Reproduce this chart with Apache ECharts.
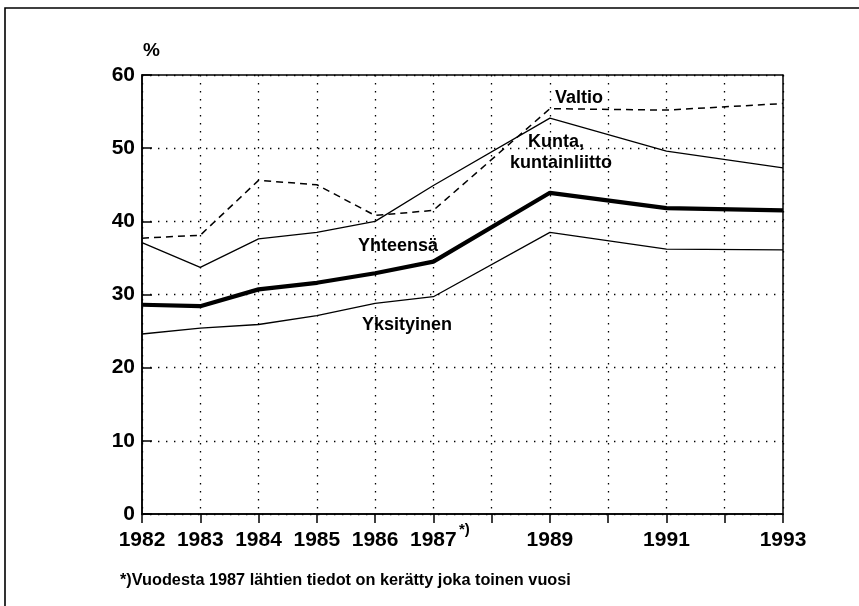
<!DOCTYPE html>
<html>
<head>
<meta charset="utf-8">
<script src="https://cdn.jsdelivr.net/npm/echarts@6/dist/echarts.min.js"></script>
<style>
html,body{margin:0;padding:0;background:#fff;}
#c{width:859px;height:606px;}
</style>
</head>
<body>
<div id="c"></div>
<script>
const years = [1982, 1983, 1984, 1985, 1986, 1987, 1989, 1991, 1993];
const valtio = [37.7, 38.1, 45.6, 45.0, 40.8, 41.5, 55.4, 55.2, 56.1];
const kunta = [37.1, 33.7, 37.6, 38.5, 40.0, 44.9, 54.1, 49.6, 47.3];
const yhteensa = [28.6, 28.4, 30.7, 31.6, 32.9, 34.5, 43.9, 41.8, 41.5];
const yksityinen = [24.6, 25.4, 25.9, 27.1, 28.8, 29.7, 38.5, 36.2, 36.1];
const tickLabels = ['1982', '1983', '1984', '1985', '1986', '1987', '1989', '1991', '1993'];
const yTicks = [0, 10, 20, 30, 40, 50, 60];

const FONT = '"Liberation Sans", Arial, Helvetica, sans-serif';
const pair = arr => years.map((y, i) => [y, arr[i]]);

const chart = echarts.init(document.getElementById('c'), null, {renderer: 'canvas'});
const dotted = {color: '#000', width: 1.3, type: [1.4, 6.6]};

chart.setOption({
  backgroundColor: '#fff',
  animation: false,
  grid: {left: 142, right: 76, top: 75, bottom: 92, show: true, borderColor: '#000', borderWidth: 1.5, backgroundColor: 'transparent'},
  xAxis: {
    type: 'value', min: 1982, max: 1993, interval: 1,
    axisLine: {show: true, lineStyle: {color: '#000', width: 1.5}},
    axisTick: {show: true, inside: false, length: 9, lineStyle: {color: '#000', width: 1.5}},
    axisLabel: {
      color: '#000', fontFamily: FONT, fontWeight: 'bold', fontSize: 21, margin: 16,
      formatter: v => tickLabels.indexOf(String(v)) >= 0 ? String(v) : ''
    },
    splitLine: {show: true, lineStyle: dotted}
  },
  yAxis: {
    type: 'value', min: yTicks[0], max: yTicks[yTicks.length - 1], interval: 10,
    axisLine: {show: true, lineStyle: {color: '#000', width: 1.5}},
    axisTick: {show: true, inside: true, length: 10, lineStyle: {color: '#000', width: 1.5}},
    axisLabel: {color: '#000', fontFamily: FONT, fontWeight: 'bold', fontSize: 21, margin: 7},
    splitLine: {show: true, lineStyle: dotted}
  },
  series: [
    {name: 'Valtio', type: 'line', data: pair(valtio), symbol: 'none',
     lineStyle: {color: '#000', width: 1.5, type: [7, 5]}},
    {name: 'Kunta, kuntainliitto', type: 'line', data: pair(kunta), symbol: 'none',
     lineStyle: {color: '#000', width: 1.3}},
    {name: 'Yhteensä', type: 'line', data: pair(yhteensa), symbol: 'none',
     lineStyle: {color: '#000', width: 4.2}},
    {name: 'Yksityinen', type: 'line', data: pair(yksityinen), symbol: 'none',
     lineStyle: {color: '#000', width: 1.3}}
  ],
  graphic: [
    {type: 'rect', shape: {x: 5, y: 8, width: 900, height: 700}, style: {fill: 'none', stroke: '#000', lineWidth: 1.6}, silent: true},
    {type: 'text', left: 143, top: 41, style: {text: '%', font: 'bold 19px ' + FONT, fill: '#000'}},
    {type: 'text', left: 555, top: 89, style: {text: 'Valtio', font: 'bold 18px ' + FONT, fill: '#000'}},
    {type: 'text', left: 528, top: 133, style: {text: 'Kunta,', font: 'bold 18px ' + FONT, fill: '#000'}},
    {type: 'text', left: 510, top: 154, style: {text: 'kuntainliitto', font: 'bold 18px ' + FONT, fill: '#000'}},
    {type: 'text', left: 358, top: 237, style: {text: 'Yhteensä', font: 'bold 18px ' + FONT, fill: '#000'}},
    {type: 'text', left: 362, top: 316, style: {text: 'Yksityinen', font: 'bold 18px ' + FONT, fill: '#000'}},
    {type: 'text', left: 459, top: 522, style: {text: '*)', font: 'bold 15px ' + FONT, fill: '#000'}},
    {type: 'text', left: 120, top: 573, style: {text: '*)Vuodesta 1987 lähtien tiedot on kerätty joka toinen vuosi', font: 'bold 16.3px ' + FONT, fill: '#000'}}
  ]
});
</script>
</body>
</html>
